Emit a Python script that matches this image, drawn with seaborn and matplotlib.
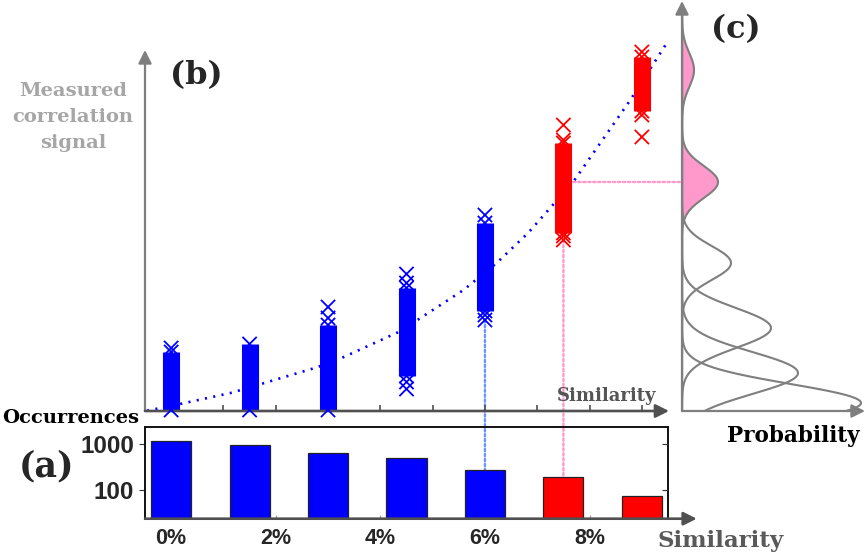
import numpy as np
import pandas as pd
import matplotlib
matplotlib.use("Agg")
import matplotlib.pyplot as plt
import seaborn as sns
from matplotlib.patches import ConnectionPatch

sns.set_style("white")
plt.rcParams["font.family"] = ["DejaVu Sans"]

# ---------------- data ----------------
# (a) occurrences per similarity bin (similarity in %)
bar_sim = [0, 1.5, 3, 4.5, 6, 7.5, 9]
bar_counts = [1180, 980, 645, 500, 276, 190, 73]
bar_group = ["low", "low", "low", "low", "low", "high", "high"]
bar_ticks = [0, 2, 4, 6, 8]
bar_ticklabels = ["0%", "2%", "4%", "6%", "8%"]
count_ticks = [100, 1000]

# (b) measured correlation signal per similarity column
col_sim = [0, 1.5, 3, 4.5, 6, 7.5, 9]
col_group = ["low", "low", "low", "low", "low", "high", "high"]
col_lo = [0.1, 0.1, 0.1, 3.5, 10.0, 17.8, 30.0]
col_hi = [5.9, 6.7, 8.6, 12.3, 18.8, 26.8, 35.4]
col_extra = [[6.3], [], [9.3, 10.4], [2.2, 2.9, 12.8, 13.7],
             [9.1, 9.6, 19.6], [17.1, 17.5, 27.1, 28.6], [27.4, 29.6, 35.9]]
trend_sim = [-0.46, 0.17, 1.16, 2.79, 3.23, 4.32, 4.73, 5.59, 6.23, 6.83, 7.69, 8.78, 9.48]
trend_sig = [0.03, 0.7, 1.83, 4.37, 5.23, 7.83, 9.17, 12.1, 14.83, 17.83, 22.93, 31.1, 36.83]
sim_ticks_b = [0, 1, 2, 3, 4, 5, 6, 7, 8, 9]

# (c) probability distributions of the signal
dist_mu = [34.1, 22.9, 14.8, 8.3, 3.8, 0.8]
dist_sd = [1.7, 1.6, 1.7, 2.0, 2.1, 1.9]
dist_amp = [12, 36, 49, 89, 116, 179]
dist_filled = [True, True, False, False, False, False]

palette = {"low": "#0000ff", "high": "#ff0000"}
PINK = "#ff99cc"
LBLUE = "#6b95ff"
GRAY = "#7f7f7f"
DGRAY = "#505050"
SERIF = ["DejaVu Serif"]
SANS = ["Liberation Sans", "DejaVu Sans"]

W, H = 865, 558
fig = plt.figure(figsize=(W / 100, H / 100), dpi=100)


def box(l, t, r, b):
    return [l / W, 1 - b / H, (r - l) / W, (b - t) / H]


ax_b = fig.add_axes(box(145, 40, 668, 411))
ax_a = fig.add_axes(box(145, 426.7, 668, 518.7))
ax_c = fig.add_axes(box(682, 0, 865, 411))
for ax in (ax_a, ax_b, ax_c):
    ax.set_facecolor("none")

# ---------------- panel (b) ----------------
ax_b.set_xlim(-0.5, 9.5)
ax_b.set_ylim(0, 37.1)
for s in ax_b.spines.values():
    s.set_visible(False)
sns.lineplot(x=trend_sim, y=trend_sig, ax=ax_b, color="#0000ff", lw=1.9,
             linestyle=(0, (0.8, 2.4)), sort=False, zorder=2)
ax_b.vlines(col_sim, col_lo, col_hi,
            colors=[palette[g] for g in col_group], lw=12.3, zorder=3,
            capstyle="butt")
pts = []
for x, g, lo, hi, ex in zip(col_sim, col_group, col_lo, col_hi, col_extra):
    for v in [lo, hi] + ex:
        pts.append((x, v, g))
pdf = pd.DataFrame(pts, columns=["sim", "sig", "grp"])
sns.scatterplot(data=pdf, x="sim", y="sig", hue="grp", palette=palette,
                marker="x", s=105, linewidth=1.3, legend=False, ax=ax_b,
                zorder=4, clip_on=False)
ax_b.set_xticks(sim_ticks_b)
ax_b.set_xticklabels([])
ax_b.set_yticks([])
ax_b.tick_params(axis="x", direction="in", length=4, width=1.2, color=DGRAY, bottom=True)
ax_b.set_xlabel("")
ax_b.set_ylabel("")
ax_b.annotate("", xy=(-0.5, 36.1), xytext=(-0.5, 0), xycoords="data",
              arrowprops=dict(arrowstyle="-|>", color=GRAY, lw=1.6,
                              mutation_scale=20, shrinkA=0, shrinkB=0),
              annotation_clip=False)
ax_b.annotate("", xy=(9.52, 0), xytext=(-0.5, 0), xycoords="data",
              arrowprops=dict(arrowstyle="-|>", color=DGRAY, lw=1.9,
                              mutation_scale=20, shrinkA=0, shrinkB=0),
              annotation_clip=False)

# ---------------- panel (a) ----------------
bdf = pd.DataFrame({"sim": bar_sim, "count": bar_counts, "grp": bar_group})
ax_a.set_yscale("log")
sns.barplot(data=bdf, x="sim", y="count", hue="grp", palette=palette,
            native_scale=True, dodge=False, width=0.51, edgecolor="#222222",
            linewidth=0.9, legend=False, saturation=1, ax=ax_a)
ax_a.set_xlim(-0.5, 9.5)
ax_a.set_ylim(23, 2440)
ax_a.set_xticks(bar_ticks)
ax_a.set_xticklabels(bar_ticklabels, fontsize=15.5, fontweight="bold", family=SANS)
ax_a.set_yticks(count_ticks)
ax_a.set_yticklabels([str(c) for c in count_ticks], fontsize=17.5,
                     fontweight="bold", family=SANS)
ax_a.yaxis.set_minor_locator(matplotlib.ticker.NullLocator())
ax_a.tick_params(axis="x", direction="in", length=3, color="#999999", pad=7, bottom=True)
ax_a.tick_params(axis="y", direction="out", length=4, color="#333333", pad=4, left=True)
ax_a.set_xlabel("")
ax_a.set_ylabel("")
ax_a.spines["bottom"].set_visible(False)
for k in ("top", "right", "left"):
    ax_a.spines[k].set_color("#111111")
    ax_a.spines[k].set_linewidth(1.4)
ax_a2 = ax_a.twinx()
ax_a2.set_yscale("log")
ax_a2.set_ylim(23, 2440)
ax_a2.set_yticks(count_ticks)
ax_a2.set_yticklabels([])
ax_a2.yaxis.set_minor_locator(matplotlib.ticker.NullLocator())
ax_a2.tick_params(axis="y", direction="in", length=4, color="#333333")
for s in ax_a2.spines.values():
    s.set_visible(False)
ax_a.annotate("", xy=(10.05, 23), xytext=(-0.5, 23), xycoords="data",
              arrowprops=dict(arrowstyle="-|>", color=DGRAY, lw=1.9,
                              mutation_scale=20, shrinkA=0, shrinkB=0),
              annotation_clip=False)

# ---------------- panel (c) ----------------
ax_c.set_xlim(0, 183)
ax_c.set_ylim(0, 41.1)
for s in ax_c.spines.values():
    s.set_visible(False)
ax_c.set_xticks([])
ax_c.set_yticks([])
sig_grid = np.linspace(0, 40, 600)
for mu, sd, amp, filled in zip(dist_mu, dist_sd, dist_amp, dist_filled):
    prob = amp * np.exp(-0.5 * ((sig_grid - mu) / sd) ** 2)
    if filled:
        ax_c.fill_betweenx(sig_grid, 0, prob, color=PINK, lw=0, zorder=1)
    sns.lineplot(x=prob, y=sig_grid, sort=False, ax=ax_c, color=GRAY, lw=1.5,
                 zorder=2)
ax_c.set_xlabel("")
ax_c.set_ylabel("")
ax_c.annotate("", xy=(0, 41.0), xytext=(0, 0), xycoords="data",
              arrowprops=dict(arrowstyle="-|>", color=GRAY, lw=1.6,
                              mutation_scale=20, shrinkA=0, shrinkB=0),
              annotation_clip=False)
ax_c.annotate("", xy=(183, 0), xytext=(0, 0), xycoords="data",
              arrowprops=dict(arrowstyle="-|>", color=GRAY, lw=1.6,
                              mutation_scale=20, shrinkA=0, shrinkB=0),
              annotation_clip=False)

# ---------------- connectors ----------------
blue_top = min([col_lo[4]] + col_extra[4])
pink_top = min([col_lo[5]] + col_extra[5])
cp1 = ConnectionPatch(xyA=(col_sim[4], blue_top), coordsA=ax_b.transData,
                      xyB=(bar_sim[4], bar_counts[4]), coordsB=ax_a.transData,
                      color=LBLUE, lw=1.7, linestyle=(0, (1, 1.1)), zorder=-1)
cp2 = ConnectionPatch(xyA=(col_sim[5], pink_top), coordsA=ax_b.transData,
                      xyB=(bar_sim[5], bar_counts[5]), coordsB=ax_a.transData,
                      color=PINK, lw=1.7, linestyle=(0, (1, 1.1)), zorder=-1)
cp3 = ConnectionPatch(xyA=(col_sim[5], dist_mu[1]), coordsA=ax_b.transData,
                      xyB=(dist_amp[1], dist_mu[1]), coordsB=ax_c.transData,
                      color=PINK, lw=1.7, linestyle=(0, (1, 1.1)), zorder=-1)
for cp in (cp1, cp2, cp3):
    fig.add_artist(cp)


# ---------------- texts ----------------
def ftext(px, py, s, **kw):
    fig.text(px / W, 1 - py / H, s, ha="center", va="center", **kw)


ftext(196, 76, "(b)", fontsize=23, fontweight="bold", family=SERIF)
ftext(736, 30, "(c)", fontsize=23, fontweight="bold", family=SERIF)
ftext(47, 466, "(a)", fontsize=25, fontweight="bold", family=SERIF)
ftext(73, 117, "Measured\ncorrelation\nsignal", fontsize=14, fontweight="bold",
      family=SERIF, color="#a6a6a6", linespacing=1.55)
ftext(607, 396, "Similarity", fontsize=13, fontweight="bold", family=SERIF, color="#555555")
ftext(71, 418, "Occurrences", fontsize=14, fontweight="bold", family=SERIF, color="black")
ftext(793, 436, "Probability", fontsize=15.5, fontweight="bold", family=SERIF, color="black")
ftext(721, 541, "Similarity", fontsize=16.5, fontweight="bold", family=SERIF, color="#595959")

fig.savefig("out.png", dpi=100)
